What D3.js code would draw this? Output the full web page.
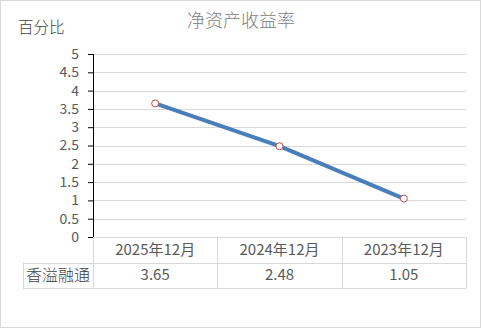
<!DOCTYPE html>
<html>
<head>
<meta charset="utf-8">
<script src="https://cdn.jsdelivr.net/npm/d3@7"></script>
<style>
  body { margin: 0; background: #fff; }
  text { font-family: "Noto Sans CJK SC", "Noto Sans", sans-serif; }
</style>
</head>
<body>
<div id="chart"></div>
<script>
// chart data
const categories = ["2025年12月", "2024年12月", "2023年12月"];
const seriesName = "香溢融通";
const values = [3.65, 2.48, 1.05];
const yTicks = [0, 0.5, 1, 1.5, 2, 2.5, 3, 3.5, 4, 4.5, 5];

const W = 481, H = 328;
const margin = {top: 54, right: 15, bottom: 91, left: 93},
    width = W - margin.left - margin.right,
    height = H - margin.top - margin.bottom;
const rowH = 25.5, labelLeft = 23;

const svg = d3.select("#chart")
    .append("svg")
    .attr("width", W)
    .attr("height", H);

// outer border
svg.append("rect")
    .attr("x", 0.5).attr("y", 0.5)
    .attr("width", W - 1).attr("height", H - 1)
    .attr("fill", "#fff")
    .attr("stroke", "#d9d9d9");

const g = svg.append("g")
    .attr("transform", "translate(" + margin.left + "," + margin.top + ")");

// scales
const x = d3.scaleBand().domain(categories).range([0, width]);
const y = d3.scaleLinear().domain([0, 5]).range([height, 0]);

// gridlines
g.append("g")
    .selectAll("line")
    .data(yTicks.filter(d => d > 0))
    .enter()
    .append("line")
    .attr("x1", 0).attr("x2", width)
    .attr("y1", d => Math.round(y(d)) + 0.5)
    .attr("y2", d => Math.round(y(d)) + 0.5)
    .attr("stroke", "#d9d9d9");

// y axis
const yAxis = d3.axisLeft(y)
    .tickValues(yTicks)
    .tickSize(5)
    .tickPadding(9)
    .tickFormat(d => d);
const yg = g.append("g").call(yAxis);
yg.select(".domain").attr("stroke", "#000").attr("d", "M0.5,0V" + height);
yg.selectAll(".tick line").attr("stroke", "#000");
yg.selectAll(".tick text")
    .attr("fill", "#595959")
    .attr("font-size", "14px");

// data table
const table = g.append("g").attr("transform", `translate(0,${height})`);
const tcol = "#d9d9d9";
// horizontal lines
[0, rowH, rowH * 2].forEach((ry, i) => {
    table.append("line")
        .attr("x1", i === 0 ? 0 : labelLeft - margin.left)
        .attr("x2", width)
        .attr("y1", Math.round(ry) + 0.5).attr("y2", Math.round(ry) + 0.5)
        .attr("stroke", tcol);
});
// vertical lines
categories.concat(["end"]).forEach((c, i) => {
    const vx = i < categories.length ? x(c) : width;
    table.append("line")
        .attr("x1", Math.round(vx) + 0.5).attr("x2", Math.round(vx) + 0.5)
        .attr("y1", 0).attr("y2", rowH * 2)
        .attr("stroke", tcol);
});
table.append("line")
    .attr("x1", labelLeft - margin.left + 0.5).attr("x2", labelLeft - margin.left + 0.5)
    .attr("y1", rowH).attr("y2", rowH * 2)
    .attr("stroke", tcol);

table.selectAll(".cat")
    .data(categories)
    .enter()
    .append("text")
    .attr("x", d => x(d) + x.bandwidth() / 2)
    .attr("y", rowH / 2 + 5)
    .attr("text-anchor", "middle")
    .attr("font-size", "15px")
    .attr("fill", "#595959")
    .text(d => d);

table.selectAll(".val")
    .data(values)
    .enter()
    .append("text")
    .attr("x", (d, i) => x(categories[i]) + x.bandwidth() / 2)
    .attr("y", rowH * 1.5 + 5)
    .attr("text-anchor", "middle")
    .attr("font-size", "15px")
    .attr("fill", "#595959")
    .text(d => d.toFixed(2));

table.append("text")
    .attr("x", (labelLeft - margin.left) / 2)
    .attr("y", rowH * 1.5 + 5.5)
    .attr("text-anchor", "middle")
    .attr("font-size", "16px")
    .attr("font-weight", 300)
    .attr("fill", "#404040")
    .text(seriesName);

// line
const line = d3.line()
    .x((d, i) => x(categories[i]) + x.bandwidth() / 2)
    .y(d => y(d));
g.append("path")
    .datum(values)
    .attr("d", line)
    .attr("fill", "none")
    .attr("stroke", "#4a7ebb")
    .attr("stroke-width", 4)
    .attr("stroke-linecap", "round");

g.selectAll(".pt")
    .data(values)
    .enter()
    .append("circle")
    .attr("cx", (d, i) => x(categories[i]) + x.bandwidth() / 2)
    .attr("cy", d => y(d))
    .attr("r", 3.5)
    .attr("fill", "#fff")
    .attr("stroke", "#be4b48")
    .attr("stroke-width", 1);

// title
svg.append("text")
    .attr("x", 241)
    .attr("y", 27)
    .attr("text-anchor", "middle")
    .attr("font-size", "18px")
    .attr("font-weight", 300)
    .attr("fill", "#808080")
    .text("净资产收益率");

// y axis label
svg.append("text")
    .attr("x", 18)
    .attr("y", 33)
    .attr("font-size", "15.5px")
    .attr("font-weight", 300)
    .attr("fill", "#404040")
    .text("百分比");
</script>
</body>
</html>
